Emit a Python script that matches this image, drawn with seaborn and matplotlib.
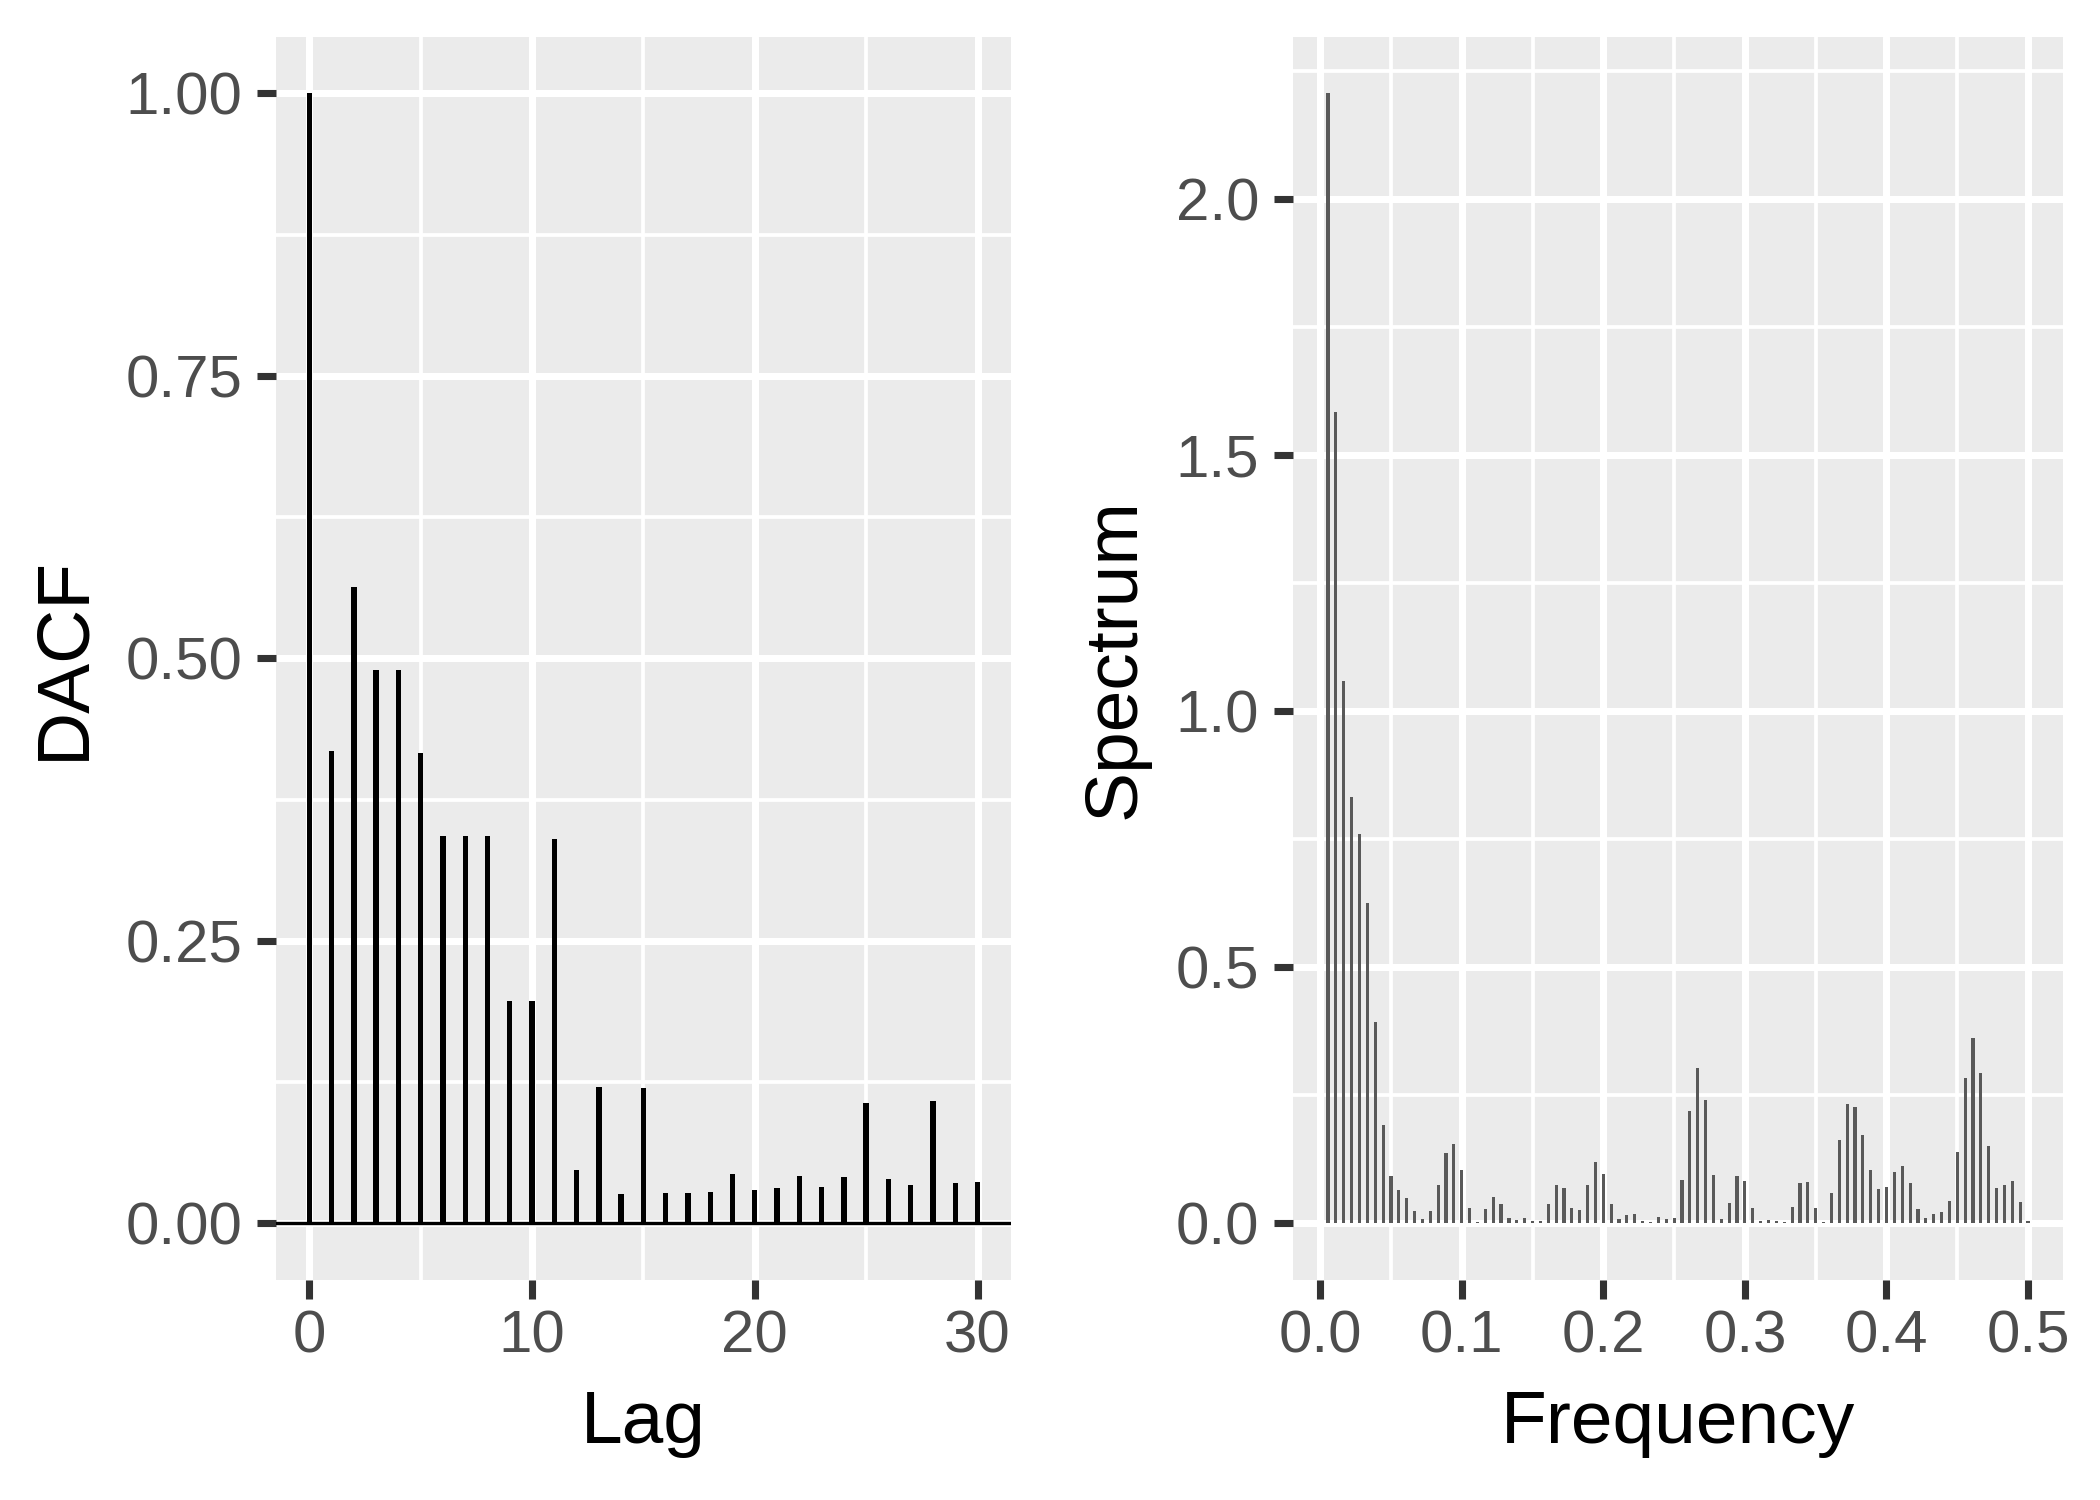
import matplotlib
matplotlib.use("Agg")
import matplotlib.pyplot as plt
import pandas as pd
import seaborn as sns

# autocorrelation (left panel)
lags = list(range(31))
dacf = [1.00, 0.418, 0.563, 0.490, 0.490, 0.416, 0.343, 0.343, 0.343, 0.197,
        0.197, 0.340, 0.047, 0.121, 0.026, 0.120, 0.027, 0.027, 0.028, 0.044,
        0.030, 0.031, 0.042, 0.032, 0.041, 0.107, 0.039, 0.034, 0.108, 0.036,
        0.037]

# periodogram (right panel), Fourier frequencies k/180
n_obs = 180
freq_index = list(range(1, 91))
spectrum = [2.206, 1.584, 1.059, 0.832, 0.760, 0.625, 0.394, 0.193, 0.093, 0.066,
            0.050, 0.025, 0.009, 0.024, 0.075, 0.138, 0.156, 0.104, 0.031, 0.003,
            0.029, 0.051, 0.037, 0.010, 0.007, 0.010, 0.004, 0.004, 0.037, 0.076,
            0.070, 0.030, 0.026, 0.076, 0.120, 0.096, 0.037, 0.009, 0.017, 0.019,
            0.005, 0.003, 0.013, 0.009, 0.011, 0.084, 0.219, 0.304, 0.241, 0.094,
            0.009, 0.039, 0.092, 0.082, 0.031, 0.005, 0.007, 0.005, 0.003, 0.033,
            0.078, 0.080, 0.031, 0.003, 0.060, 0.162, 0.233, 0.227, 0.172, 0.105,
            0.068, 0.072, 0.101, 0.113, 0.078, 0.029, 0.011, 0.019, 0.023, 0.043,
            0.139, 0.284, 0.362, 0.294, 0.152, 0.070, 0.076, 0.082, 0.041, 0.005]

df_acf = pd.DataFrame({'Lag': lags, 'DACF': dacf})
df_spec = pd.DataFrame({'Frequency': [k / n_obs for k in freq_index], 'Spectrum': spectrum})

sns.set_theme(style='darkgrid', rc={
    'axes.facecolor': '#EBEBEB',
    'grid.color': 'white',
    'axes.edgecolor': '#EBEBEB',
    'xtick.color': '#333333',
    'ytick.color': '#333333',
    'xtick.labelcolor': '#4D4D4D',
    'ytick.labelcolor': '#4D4D4D',
    'axes.labelcolor': 'black',
})
plt.rcParams['font.family'] = ['Liberation Sans', 'DejaVu Sans']

tick_fs = 14.4
title_fs = 18

fig = plt.figure(figsize=(7, 5), dpi=300)
ax1 = fig.add_axes([0.1314, 0.1467, 0.350, 0.8287])
ax2 = fig.add_axes([0.6157, 0.1467, 0.3667, 0.8287])


def ggplot_look(ax, major_x, minor_x, major_y, minor_y, xfmt, yfmt):
    ax.set_xticks(major_x)
    ax.set_xticks(minor_x, minor=True)
    ax.set_yticks(major_y)
    ax.set_yticks(minor_y, minor=True)
    ax.set_xticklabels([xfmt % v for v in major_x])
    ax.set_yticklabels([yfmt % v for v in major_y])
    ax.grid(which='major', color='white', linewidth=1.7)
    ax.grid(which='minor', color='white', linewidth=0.9)
    ax.set_axisbelow(True)
    for s in ax.spines.values():
        s.set_visible(False)
    ax.tick_params(which='major', length=4.5, width=1.7, labelsize=tick_fs,
                   left=True, bottom=True)
    ax.tick_params(axis='y', which='major', pad=3.6)
    ax.tick_params(axis='x', which='major', pad=2.5)
    ax.tick_params(which='minor', length=0)


# left: DACF stems
sns.barplot(data=df_acf, x='Lag', y='DACF', native_scale=True, width=0.24,
            color='black', saturation=1, linewidth=0, errorbar=None, ax=ax1)
ax1.axhline(0, color='black', linewidth=0.8, zorder=3)
ax1.set_xlim(-1.5, 31.5)
ax1.set_ylim(-0.05, 1.05)
ggplot_look(ax1, [0, 10, 20, 30], [5, 15, 25],
            [0, 0.25, 0.5, 0.75, 1.0], [0.125, 0.375, 0.625, 0.875],
            '%d', '%.2f')
ax1.set_xlabel('Lag', fontsize=title_fs, labelpad=6)
ax1.set_ylabel('DACF', fontsize=title_fs, labelpad=6.4)

# right: spectrum bars
sns.barplot(data=df_spec, x='Frequency', y='Spectrum', native_scale=True, width=0.4,
            color='#595959', saturation=1, linewidth=0, errorbar=None, ax=ax2)
ax2.set_xlim(-0.0192, 0.5247)
ax2.set_ylim(-0.1103, 2.3163)
ggplot_look(ax2, [0, 0.1, 0.2, 0.3, 0.4, 0.5], [0.05, 0.15, 0.25, 0.35, 0.45],
            [0, 0.5, 1.0, 1.5, 2.0], [0.25, 0.75, 1.25, 1.75, 2.25],
            '%.1f', '%.1f')
ax2.set_xlabel('Frequency', fontsize=title_fs, labelpad=6)
ax2.set_ylabel('Spectrum', fontsize=title_fs, labelpad=6.4)

fig.savefig('out.png', dpi=300, facecolor='white')
